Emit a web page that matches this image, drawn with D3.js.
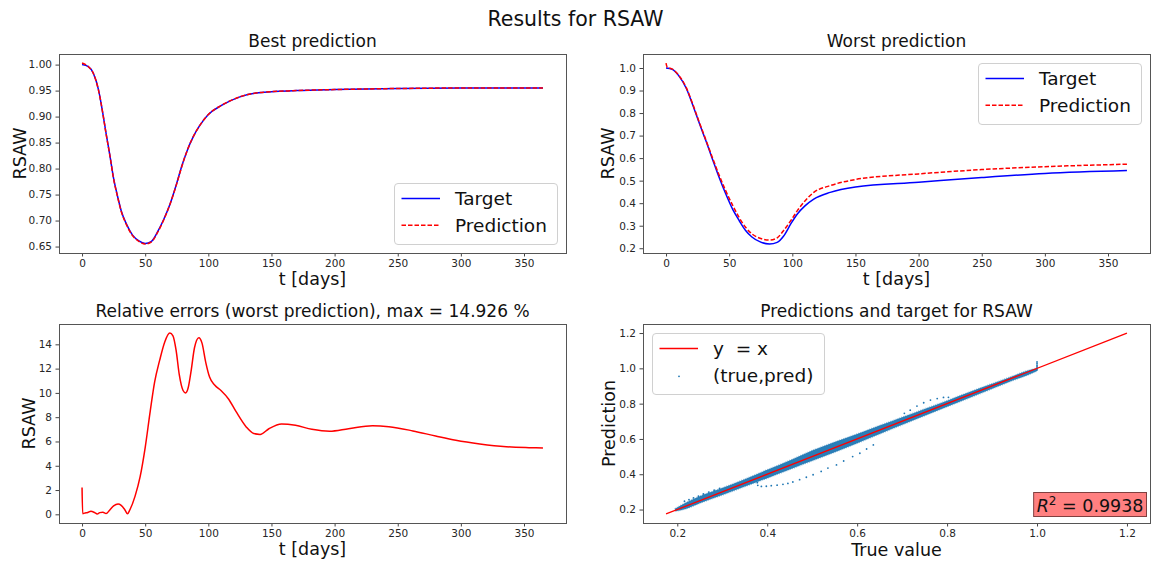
<!DOCTYPE html>
<html>
<head>
<meta charset="utf-8">
<script src="https://cdn.jsdelivr.net/npm/d3@7"></script>
<style>
  body { margin: 0; background: #fff; }
  svg { display: block; font-family: "DejaVu Sans", sans-serif; }
</style>
</head>
<body>
<svg id="fig" width="1151" height="562"></svg>
<script>
// ---- values ----
const tBest      = [0, 5, 9, 13, 17, 19, 22, 25, 28, 31, 35, 40, 45, 50, 55, 60, 65, 70, 75, 79, 83, 88, 93, 100, 110, 125, 140, 170, 200, 250, 300, 365];
const bestTarget = [1.000, .996, .983, .952, .898, .868, .826, .781, .748, .719, .694, .672, .661, .656, .660, .679, .704, .734, .772, .805, .833, .861, .882, .904, .921, .938, .946, .950, .952, .954, .955, .955];
const bestPred   = [1.003, .996, .983, .951, .898, .867, .826, .780, .747, .718, .693, .671, .660, .655, .659, .678, .703, .734, .771, .804, .833, .861, .882, .904, .921, .938, .946, .950, .952, .954, .955, .955];

const tWorst      = [0, 5, 10, 16, 21, 26, 32, 37, 42, 47, 53, 58, 63, 68, 75, 82, 88, 93, 99, 104, 110, 117, 130, 150, 200, 250, 300, 365];
const worstTarget = [1.000, .994, .966, .910, .838, .760, .670, .592, .515, .445, .370, .322, .279, .250, .227, .219, .226, .253, .310, .352, .388, .418, .448, .472, .493, .514, .532, .545];
const tWorstPred  = [0, 1, 5, 10, 16, 21, 26, 32, 37, 42, 47, 53, 58, 63, 68, 75, 82, 88, 93, 99, 104, 110, 117, 130, 150, 200, 250, 300, 365];
const worstPred   = [1.022, 1.003, .995, .968, .913, .842, .764, .674, .598, .525, .458, .388, .335, .293, .264, .243, .236, .246, .278, .324, .367, .410, .448, .478, .505, .530, .549, .562, .573];

const tErr   = [0, 0.5, 2, 4.5, 7, 10, 12, 14, 16.5, 19, 22, 25, 28.5, 31, 34, 36, 38, 42, 46, 50, 54, 57.5, 61.5, 65.5, 69.5, 72, 74.5, 77, 80, 82, 84, 86.5, 89, 92.5, 95, 98, 101, 105, 110, 116, 122, 130, 136, 141, 148, 158, 169, 182, 196, 211, 230, 243, 262, 280, 296, 315, 336, 354, 365];
const relErr = [2.2, 0.05, 0.1, 0.15, 0.25, 0.14, 0.03, 0.14, 0.17, 0.06, 0.36, 0.69, 0.85, 0.74, 0.36, 0.05, 0.4, 1.5, 3.1, 5.5, 8.5, 10.9, 12.7, 14.2, 14.93, 14.7, 13.5, 11.5, 10.2, 10.0, 10.4, 11.9, 13.7, 14.55, 14.1, 12.5, 11.3, 10.65, 10.2, 9.5, 8.45, 7.2, 6.65, 6.58, 7.05, 7.44, 7.33, 7.0, 6.84, 7.05, 7.3, 7.22, 6.87, 6.45, 6.1, 5.8, 5.57, 5.49, 5.46];

// dense (true,pred) cloud: lower / upper edge along the true value
const bandX  = [.195, .22, .25, .30, .35, .40, .45, .50, .55, .60, .65, .70, .75, .80, .85, .90, .95, .98, 1.00];
const bandLo = [.190, .205, .236, .282, .330, .378, .427, .476, .525, .576, .628, .680, .732, .783, .833, .884, .935, .963, .985];
const bandHi = [.205, .240, .275, .322, .372, .425, .478, .534, .582, .628, .676, .723, .770, .817, .866, .913, .960, .988, 1.000];
// sparse points outside the cloud
const sparseX = [.216, .226, .236, .247, .258, .270, .282, .294,
                 .378, .379, .387, .398, .409, .422, .435, .446, .457, .472, .487, .502, .520, .535, .554, .570, .590, .606, .621, .636,
                 .705, .718, .733, .748, .763, .778, .792, .803,
                 1.0, 1.0, 1.0, 1.0, 1.0, 1.0];
const sparseY = [.247, .256, .266, .276, .288, .299, .310, .320,
                 .352, .337, .331, .332, .335, .338, .343, .348, .356, .369, .383, .397, .416, .435, .453, .475, .500, .519, .543, .566,
                 .745, .763, .786, .805, .820, .829, .835, .836,
                 .992, 1.002, 1.010, 1.018, 1.027, 1.036];
const idLine = [0.175, 1.2];
const r2Text = "0.9938";

const timeTicks = [0, 50, 100, 150, 200, 250, 300, 350];
const bestTicks = [0.65, 0.70, 0.75, 0.80, 0.85, 0.90, 0.95, 1.00];
const worstTicks = [0.2, 0.3, 0.4, 0.5, 0.6, 0.7, 0.8, 0.9, 1.0];
const errTicks = [0, 2, 4, 6, 8, 10, 12, 14];
const scatTicks = [0.2, 0.4, 0.6, 0.8, 1.0, 1.2];

// ---- drawing ----
const svg = d3.select("#fig");
const FONT = "DejaVu Sans";

const boxes = {
  best:  {x0: 59,  x1: 566,  y0: 54,  y1: 253},
  worst: {x0: 643, x1: 1150, y0: 54,  y1: 253},
  err:   {x0: 59,  x1: 566,  y0: 324, y1: 523},
  scat:  {x0: 643, x1: 1150, y0: 324, y1: 523}
};

// matplotlib-like 5% margins
function pad(ext) { const r = ext[1] - ext[0]; return [ext[0] - 0.05 * r, ext[1] + 0.05 * r]; }

function drawAxes(b, xs, ys, xt, yt, xf, yf) {
  const g = svg.append("g");
  g.append("g").attr("transform", `translate(0,${b.y1})`)
    .call(d3.axisBottom(xs).tickValues(xt).tickFormat(xf).tickSize(3.5).tickPadding(3.5).tickSizeOuter(0));
  g.append("g").attr("transform", `translate(${b.x0},0)`)
    .call(d3.axisLeft(ys).tickValues(yt).tickFormat(yf).tickSize(3.5).tickPadding(3.5).tickSizeOuter(0));
  g.selectAll(".domain").remove();
  g.selectAll("g g").attr("font-family", FONT).attr("font-size", 10.5);
  g.selectAll(".tick text").attr("fill", "#262626");
  g.selectAll(".tick line").attr("stroke", "#444");
}

function frame(b) {
  svg.append("rect")
    .attr("x", b.x0 + 0.5).attr("y", b.y0 + 0.5)
    .attr("width", b.x1 - b.x0).attr("height", b.y1 - b.y0)
    .attr("fill", "none").attr("stroke", "#555").attr("stroke-width", 1);
}

function text(x, y, s, size, opts = {}) {
  const t = svg.append("text").attr("x", x).attr("y", y)
    .attr("font-size", size).attr("fill", "#111")
    .attr("text-anchor", opts.anchor || "middle")
    .style("white-space", "pre")
    .text(s);
  if (opts.rotate) t.attr("transform", `rotate(-90,${x},${y})`);
  return t;
}

function legend(x, y, w, h, entries) {
  const g = svg.append("g");
  g.append("rect").attr("x", x + 0.5).attr("y", y + 0.5).attr("width", w).attr("height", h)
    .attr("rx", 3.5).attr("fill", "#fff").attr("fill-opacity", 0.8)
    .attr("stroke", "#d0d0d0").attr("stroke-width", 1);
  entries.forEach((e, i) => {
    const cy = y + 15.5 + i * 26.8;
    if (e.type === "line") {
      g.append("line").attr("x1", x + 7.5).attr("x2", x + 46).attr("y1", cy).attr("y2", cy)
        .attr("stroke", e.color).attr("stroke-width", 1.5)
        .attr("stroke-dasharray", e.dash || null);
    } else {
      g.append("circle").attr("cx", x + 27).attr("cy", cy + 1).attr("r", 0.9).attr("fill", e.color);
    }
    g.append("text").attr("x", x + 61).attr("y", cy + 6.6)
      .attr("font-size", 18.5).attr("fill", "#111").style("white-space", "pre").text(e.label);
  });
}

function series(xs, ys, tx, vy, color, dash, width) {
  const pts = tx.map((t, i) => [t, vy[i]]);
  svg.append("path").datum(pts)
    .attr("d", d3.line().x(d => xs(d[0])).y(d => ys(d[1])).curve(d3.curveMonotoneX))
    .attr("fill", "none").attr("stroke", color).attr("stroke-width", width || 1.5)
    .attr("stroke-dasharray", dash || null);
}

const DASH = "4.5,2";

// suptitle
text(575.5, 26, "Results for RSAW", 20.5);

// --- best prediction ---
{
  const b = boxes.best;
  const xs = d3.scaleLinear().domain(pad([0, 365])).range([b.x0, b.x1]);
  const ys = d3.scaleLinear().domain(pad(d3.extent(bestTarget.concat(bestPred)))).range([b.y1, b.y0]);
  drawAxes(b, xs, ys, timeTicks, bestTicks, d3.format("d"), d3.format(".2f"));
  series(xs, ys, tBest, bestTarget, "#0000ff");
  series(xs, ys, tBest, bestPred, "#ff0000", DASH);
  frame(b);
  text((b.x0 + b.x1) / 2, 47, "Best prediction", 17);
  text((b.x0 + b.x1) / 2, 285, "t [days]", 17.5);
  text(26, (b.y0 + b.y1) / 2, "RSAW", 17.5, {rotate: true});
  legend(b.x1 - 9 - 163, b.y1 - 9 - 61, 163, 61, [
    {type: "line", color: "#0000ff", label: "Target"},
    {type: "line", color: "#ff0000", dash: DASH, label: "Prediction"}
  ]);
}

// --- worst prediction ---
{
  const b = boxes.worst;
  const xs = d3.scaleLinear().domain(pad([0, 365])).range([b.x0, b.x1]);
  const ys = d3.scaleLinear().domain(pad(d3.extent(worstTarget.concat(worstPred)))).range([b.y1, b.y0]);
  drawAxes(b, xs, ys, timeTicks, worstTicks, d3.format("d"), d3.format(".1f"));
  series(xs, ys, tWorst, worstTarget, "#0000ff");
  series(xs, ys, tWorstPred, worstPred, "#ff0000", DASH);
  frame(b);
  text((b.x0 + b.x1) / 2, 47, "Worst prediction", 17);
  text((b.x0 + b.x1) / 2, 285, "t [days]", 17.5);
  text(614, (b.y0 + b.y1) / 2, "RSAW", 17.5, {rotate: true});
  legend(b.x1 - 9 - 163, b.y0 + 9, 163, 61, [
    {type: "line", color: "#0000ff", label: "Target"},
    {type: "line", color: "#ff0000", dash: DASH, label: "Prediction"}
  ]);
}

// --- relative errors ---
{
  const b = boxes.err;
  const xs = d3.scaleLinear().domain(pad([0, 365])).range([b.x0, b.x1]);
  const ys = d3.scaleLinear().domain(pad(d3.extent(relErr))).range([b.y1, b.y0]);
  drawAxes(b, xs, ys, timeTicks, errTicks, d3.format("d"), d3.format("d"));
  series(xs, ys, tErr, relErr, "#ff0000");
  frame(b);
  text((b.x0 + b.x1) / 2, 317, "Relative errors (worst prediction), max = 14.926 %", 17);
  text((b.x0 + b.x1) / 2, 555, "t [days]", 17.5);
  text(35, (b.y0 + b.y1) / 2, "RSAW", 17.5, {rotate: true});
}

// --- predictions vs target ---
{
  const b = boxes.scat;
  const dom = pad(idLine);
  const xs = d3.scaleLinear().domain(dom).range([b.x0, b.x1]);
  const ys = d3.scaleLinear().domain(dom).range([b.y1, b.y0]);
  drawAxes(b, xs, ys, scatTicks, scatTicks, d3.format(".1f"), d3.format(".1f"));

  const band = bandX.map((x, i) => ({x, lo: bandLo[i], hi: bandHi[i]}));
  svg.append("path").datum(band)
    .attr("d", d3.area().x(d => xs(d.x)).y0(d => ys(d.lo)).y1(d => ys(d.hi)).curve(d3.curveMonotoneX))
    .attr("fill", "#1f77b4").attr("fill-opacity", 0.95)
    .attr("stroke", "#1f77b4").attr("stroke-width", 1.6).attr("stroke-opacity", 0.45)
    .attr("stroke-dasharray", "1,1");

  svg.append("g").selectAll("circle")
    .data(sparseX.map((x, i) => [x, sparseY[i]]))
    .join("circle")
      .attr("cx", d => xs(d[0])).attr("cy", d => ys(d[1])).attr("r", 0.9)
      .attr("fill", "#1f77b4");

  svg.append("line")
    .attr("x1", xs(idLine[0])).attr("y1", ys(idLine[0]))
    .attr("x2", xs(idLine[1])).attr("y2", ys(idLine[1]))
    .attr("stroke", "#ff0000").attr("stroke-width", 1.3);

  frame(b);
  text((b.x0 + b.x1) / 2, 317, "Predictions and target for RSAW", 17);
  text((b.x0 + b.x1) / 2, 556, "True value", 17.5);
  text(615, (b.y0 + b.y1) / 2, "Prediction", 17.5, {rotate: true});
  legend(b.x0 + 9, b.y0 + 9, 172, 61, [
    {type: "line", color: "#ff0000", label: "y  = x"},
    {type: "dot", color: "#1f77b4", label: "(true,pred)"}
  ]);

  // R^2 box
  const rt = svg.append("text").attr("x", b.x1 - 6.5).attr("y", b.y1 - 11.5)
    .attr("font-size", 17.5).attr("fill", "#111").attr("text-anchor", "end")
    .style("white-space", "pre");
  rt.append("tspan").attr("font-style", "italic").text("R");
  rt.append("tspan").attr("font-size", 12).attr("dy", -7).text("2");
  rt.append("tspan").attr("dy", 7).text(" = " + r2Text);
  const bb = rt.node().getBBox();
  svg.insert("rect", function() { return rt.node(); })
    .attr("x", bb.x - 3).attr("y", bb.y - 1).attr("width", bb.width + 6).attr("height", bb.height + 2)
    .attr("fill", "#ff8080").attr("stroke", "#804040").attr("stroke-width", 1);
}
</script>
</body>
</html>
